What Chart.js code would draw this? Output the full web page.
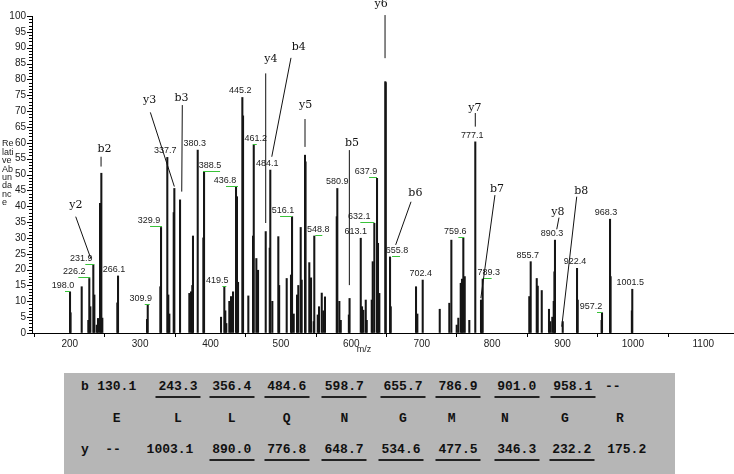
<!DOCTYPE html>
<html>
<head>
<meta charset="utf-8">
<script src="https://cdn.jsdelivr.net/npm/chart.js@4.4.1/dist/chart.umd.min.js"></script>
<style>
  html, body { margin: 0; padding: 0; background: #fff; }
  #wrap { position: relative; width: 734px; height: 474px; overflow: hidden; }
  #chartBox { position: absolute; left: 0; top: 0; width: 734px; height: 362px; }
  #seq { position: absolute; left: 64px; top: 373px; width: 611px; height: 101px; background: #b6b6b6; }
  #seq span {
    position: absolute; transform: translateX(-50%);
    font: bold 13px "Liberation Mono", "DejaVu Sans Mono", monospace;
    color: #111; line-height: 14px; white-space: pre;
  }
  #seq span.u { border-bottom: 2px solid #222; padding: 0 3px 2px; }
</style>
</head>
<body>
<div id="wrap">
  <div id="chartBox"><canvas id="chart"></canvas></div>
  <div id="seq"></div>
</div>
<script>
// Peaks (m/z, relative abundance, printed label)
const peakMz = [
  200.4, 201.2, 217.0, 226.4, 227.8, 229.3, 233.5, 235.0, 238.4, 240.2,
  243.0, 244.9, 246.3, 267.6, 268.6, 309.8, 310.8, 328.7, 329.7, 338.6,
  340.0, 341.5, 347.7, 348.6, 356.7, 369.9, 372.3, 374.1, 375.1, 381.8,
  389.8, 390.8, 414.9, 419.6, 421.0, 422.4, 426.7, 429.1, 432.0, 436.2,
  437.6, 439.1, 445.2, 446.2, 453.7, 460.4, 461.4, 465.1, 467.5, 478.4,
  484.1, 484.9, 487.8, 496.3, 497.5, 508.2, 514.3, 515.8, 518.2, 522.9,
  524.7, 528.1, 529.5, 534.2, 535.0, 540.3, 542.8, 546.6, 547.4, 552.3,
  554.1, 558.0, 560.2, 562.6, 579.3, 580.1, 583.0, 585.0, 596.5, 597.5,
  613.4, 615.2, 617.1, 620.5, 621.9, 629.0, 630.4, 632.7, 636.5, 637.9,
  639.8, 648.3, 648.9, 655.0, 656.0, 691.9, 693.8, 701.4, 725.6, 739.2,
  742.1, 749.7, 752.0, 755.4, 757.2, 759.1, 761.1, 767.6, 776.1, 784.2,
  785.2, 786.6, 852.8, 854.8, 863.4, 864.8, 870.5, 880.8, 882.7, 885.5,
  887.5, 888.5, 889.3, 900.3, 920.6, 921.6, 955.5, 956.1, 967.5, 968.3,
  998.5, 999.1
];
const peakInt = [
  13.0, 6.4, 14.6, 4.0, 17.2, 8.3, 21.5, 12.0, 2.5, 4.6,
  40.9, 50.4, 4.7, 9.5, 18.0, 4.3, 8.8, 14.6, 33.3, 55.4,
  12.0, 6.0, 38.0, 45.6, 42.0, 12.5, 13.0, 15.0, 30.6, 57.7,
  30.0, 50.9, 5.0, 14.6, 7.0, 3.0, 10.0, 11.5, 13.0, 46.2,
  43.0, 16.0, 74.3, 68.5, 11.7, 30.6, 59.3, 23.5, 19.8, 32.0,
  26.8, 51.4, 10.0, 30.4, 15.0, 17.2, 18.3, 36.7, 6.0, 12.0,
  15.0, 33.3, 16.7, 56.1, 54.0, 22.2, 17.4, 3.6, 30.6, 5.7,
  8.3, 12.6, 7.0, 11.4, 36.7, 45.6, 10.0, 4.0, 5.7, 10.9,
  29.9, 8.3, 7.2, 10.4, 4.0, 10.4, 22.5, 34.6, 48.8, 28.3,
  12.5, 79.3, 79.0, 24.0, 8.3, 14.6, 6.0, 16.7, 7.5, 9.4,
  29.3, 2.5, 4.7, 15.7, 17.0, 29.9, 17.8, 4.0, 60.3, 10.4,
  6.0, 17.0, 11.5, 22.5, 17.2, 14.8, 13.4, 7.5, 3.6, 5.0,
  10.0, 19.3, 29.3, 3.6, 20.4, 10.4, 4.0, 6.4, 35.9, 17.8,
  7.0, 13.8
];
const peakLabel = [
  '198.0', '', '', '', '226.2', '', '231.9', '', '', '',
  '', '', '', '', '266.1', '', '309.9', '', '329.9', '337.7',
  '', '', '', '', '', '', '', '', '', '380.3',
  '', '388.5', '', '419.5', '', '', '', '', '', '436.8',
  '', '', '445.2', '', '', '', '461.2', '', '', '',
  '', '484.1', '', '', '', '', '', '516.1', '', '',
  '', '', '', '', '', '', '', '', '548.8', '',
  '', '', '', '', '', '580.9', '', '', '', '',
  '613.1', '', '', '', '', '', '', '632.1', '637.9', '',
  '', '', '', '655.8', '', '', '', '702.4', '', '',
  '', '', '', '', '', '759.6', '', '', '777.1', '',
  '', '789.3', '', '855.7', '', '', '', '', '', '',
  '', '', '890.3', '', '922.4', '', '', '957.2', '968.3', '',
  '', '1001.5'
];
const xTicks = [200, 300, 400, 500, 600, 700, 800, 900, 1000, 1100];

// Fragment ion annotations: text spot and leader line, in (m/z, abundance)
const ionMarks = [
  { name: 'y2', at: [208.7, 40.4], from: [208.5, 36.7], to: [229.8, 23.6] },
  { name: 'b2', at: [249.3, 58.0], from: [244.5, 55.6], to: [244.5, 52.5] },
  { name: 'y3', at: [313.6, 73.5], from: [314.5, 69.6], to: [348.6, 46.2] },
  { name: 'b3', at: [358.8, 74.0], from: [359.9, 71.9], to: [359.1, 44.6] },
  { name: 'y4', at: [485.7, 86.3], from: [478.4, 81.9], to: [478.4, 34.7] },
  { name: 'b4', at: [525.3, 90.2], from: [514.3, 86.8], to: [487.0, 55.6] },
  { name: 'y5', at: [535.0, 71.9], from: [534.2, 67.5], to: [534.2, 58.7] },
  { name: 'y6', at: [642.2, 103.7], from: [647.9, 100.3], to: [647.9, 86.7] },
  { name: 'b5', at: [601.0, 60.0], from: [597.2, 57.7], to: [597.2, 15.1] },
  { name: 'b6', at: [691.0, 44.1], from: [684.8, 41.4], to: [663.0, 27.8] },
  { name: 'y7', at: [775.6, 70.9], from: [776.1, 69.4], to: [776.1, 65.1] },
  { name: 'b7', at: [807.0, 45.3], from: [804.0, 43.5], to: [784.0, 11.0] },
  { name: 'y8', at: [893.3, 38.2], from: [895.0, 36.4], to: [891.8, 32.7] },
  { name: 'b8', at: [926.7, 44.6], from: [920.2, 43.0], to: [898.9, 2.0] }
];

// Sequence table under the spectrum
const bIons = ['130.1', '243.3', '356.4', '484.6', '598.7', '655.7', '786.9', '901.0', '958.1', '--'];
const residues = ['E', 'L', 'L', 'Q', 'N', 'G', 'M', 'N', 'G', 'R'];
const yIons = ['--', '1003.1', '890.0', '776.8', '648.7', '534.6', '477.5', '346.3', '232.2', '175.2'];
const bMatched = [false, true, true, true, true, true, true, true, true, false];
const yMatched = [false, false, true, true, true, true, true, true, true, false];

// label placement (px offset from bar, green leader span)
const labelStyle = {
  '198.0': { dx: -7, lead: [-5, 0] },
  '226.2': { dx: -15, lead: [-11, 1] },
  '231.9': { dx: -12, lead: [-8, 1] },
  '266.1': { dx: -4 },
  '309.9': { dx: -7, lead: [-3, 2] },
  '329.9': { dx: -12, lead: [-11, 1] },
  '337.7': { dx: -2 },
  '380.3': { dx: -3 },
  '388.5': { dx: 6, lead: [-1, 16] },
  '419.5': { dx: -7, lead: [-2, 2] },
  '436.8': { dx: -11, lead: [-10, 2] },
  '445.2': { dx: -2 },
  '461.2': { dx: 2, lead: [-1, 3] },
  '484.1': { dx: -3 },
  '516.1': { dx: -9, lead: [-12, 0] },
  '548.8': { dx: 4, lead: [1, 8] },
  '580.9': { dx: 0 },
  '613.1': { dx: -5 },
  '632.1': { dx: -15, lead: [-14, 0] },
  '637.9': { dx: -11, lead: [-8, 0] },
  '655.8': { dx: 7, lead: [2, 10] },
  '702.4': { dx: -2 },
  '759.6': { dx: -8, lead: [-5, 1] },
  '777.1': { dx: -3 },
  '789.3': { dx: 6, lead: [0, 9] },
  '855.7': { dx: -3 },
  '890.3': { dx: -3 },
  '922.4': { dx: -2 },
  '957.2': { dx: -11, lead: [-5, 0] },
  '968.3': { dx: -4 },
  '1001.5': { dx: -2 }
};

// Build the sequence table
const seq = document.getElementById('seq');
function cell(text, left, top, underline) {
  const s = document.createElement('span');
  s.textContent = text;
  s.style.left = (left - 64) + 'px';
  s.style.top = top + 'px';
  if (underline) s.className = 'u';
  seq.appendChild(s);
}
const bCols = [116.7, 178, 231.7, 286.7, 344.3, 403, 458, 516.7, 572.7, 612.7];
const resCols = [116.7, 178, 231.7, 286.7, 344.3, 403, 451.7, 505, 565, 620];
const yCols = [113, 170, 231.7, 286.7, 344, 401, 458, 516.7, 571.7, 626.7];
cell('b', 85, 6.7, false);
bIons.forEach((t, i) => cell(t, bCols[i], 6.7, bMatched[i]));
residues.forEach((t, i) => cell(t, resCols[i], 39, false));
cell('y', 85, 70, false);
yIons.forEach((t, i) => cell(t, yCols[i], 70, yMatched[i]));

// Drawing extras: y ruler ticks, titles, peak labels, ion annotations
const spectrumDecor = {
  id: 'spectrumDecor',
  afterDraw(chart) {
    const { ctx, chartArea } = chart;
    const x = chart.scales.x, y = chart.scales.y;
    ctx.save();

    // ruler ticks on the y axis
    ctx.strokeStyle = '#000';
    ctx.lineWidth = 1;
    ctx.beginPath();
    for (let v = 0; v <= 100; v++) {
      const py = Math.round(y.getPixelForValue(v)) + 0.5;
      const len = v % 5 === 0 ? 5 : 3;
      ctx.moveTo(chartArea.left - len, py);
      ctx.lineTo(chartArea.left, py);
    }
    ctx.stroke();

    // y title, broken into short lines
    ctx.fillStyle = '#222';
    ctx.font = '9px "Liberation Sans", Arial, sans-serif';
    ctx.textAlign = 'left';
    ctx.textBaseline = 'middle';
    ['Re', 'lati', 've', 'Ab', 'un', 'da', 'nc', 'e'].forEach((t, i) => {
      ctx.fillText(t, 2, 144 + i * 8.4);
    });

    // x title
    ctx.textAlign = 'center';
    ctx.fillText('m/z', 364, 350);

    // peak m/z labels
    ctx.textBaseline = 'bottom';
    peakMz.forEach((m, i) => {
      const txt = peakLabel[i];
      if (!txt) return;
      const px = x.getPixelForValue(m);
      const py = y.getPixelForValue(peakInt[i]);
      const st = labelStyle[txt] || { dx: -3 };
      ctx.fillStyle = '#222';
      ctx.fillText(txt, px + st.dx, py - 2);
      if (st.lead) {
        ctx.strokeStyle = '#39c239';
        ctx.beginPath();
        ctx.moveTo(px + st.lead[0], Math.round(py) - 0.5);
        ctx.lineTo(px + st.lead[1], Math.round(py) - 0.5);
        ctx.stroke();
      }
    });

    // fragment ion names and leader lines
    ctx.font = '11px "DejaVu Serif", "Liberation Serif", serif';
    ctx.textBaseline = 'middle';
    ctx.strokeStyle = '#111';
    ctx.fillStyle = '#111';
    ionMarks.forEach(a => {
      ctx.fillText(a.name, x.getPixelForValue(a.at[0]), y.getPixelForValue(a.at[1]));
      ctx.beginPath();
      ctx.moveTo(x.getPixelForValue(a.from[0]), y.getPixelForValue(a.from[1]));
      ctx.lineTo(x.getPixelForValue(a.to[0]), y.getPixelForValue(a.to[1]));
      ctx.stroke();
    });
    ctx.restore();
  }
};

Chart.defaults.font.family = '"Liberation Sans", Arial, sans-serif';
Chart.defaults.font.size = 10;
Chart.defaults.color = '#222';

const ctx = document.getElementById('chart').getContext('2d');
const chart = new Chart(ctx, {
  type: 'bar',
  data: {
    datasets: [{
      data: peakMz.map((m, i) => ({ x: m, y: peakInt[i] })),
      backgroundColor: '#151515',
      borderWidth: 0,
      barThickness: 1.4
    }]
  },
  options: {
    animation: false,
    responsive: true,
    maintainAspectRatio: false,
    devicePixelRatio: 1,
    layout: { padding: { top: 16, left: 0, right: 0, bottom: 0 } },
    plugins: { legend: { display: false }, tooltip: { enabled: false } },
    scales: {
      x: {
        type: 'linear',
        min: 146.4,
        max: 1143.6,
        offset: false,
        afterFit(s) { s.height = 29; },
        afterBuildTicks(s) { s.ticks = xTicks.map(v => ({ value: v })); },
        ticks: { autoSkip: false, maxRotation: 0, padding: 1, callback: v => String(v) },
        grid: { drawOnChartArea: false, tickLength: 4, color: '#000' },
        border: { color: '#000' }
      },
      y: {
        min: 0,
        max: 100,
        afterFit(s) { s.width = 32; },
        ticks: {
          stepSize: 1,
          autoSkip: false,
          padding: 6,
          callback: v => (v % 5 === 0 ? v : '')
        },
        grid: { drawOnChartArea: false, drawTicks: false },
        border: { color: '#000' }
      }
    }
  },
  plugins: [spectrumDecor]
});
</script>
</body>
</html>
